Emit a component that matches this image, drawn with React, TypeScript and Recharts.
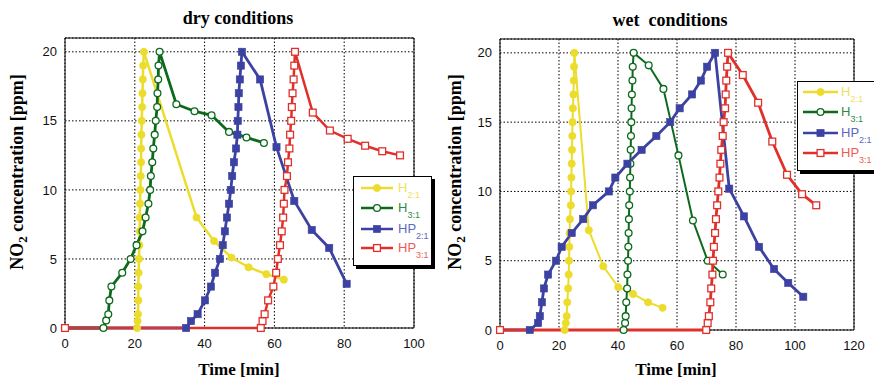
import React from "react";
import {
  LineChart,
  Line,
  XAxis,
  YAxis,
  CartesianGrid,
  ReferenceArea,
} from "recharts";

// [time (min), NO2 (ppm)]
const dryH21: [number, number][] = [
  [0, 0], [20.7, 0], [20.8, 0.5], [20.9, 1], [21.0, 2], [21.0, 3], [21.1, 4], [21.2, 5],
  [21.3, 6], [21.4, 7], [21.4, 8], [21.5, 9], [21.6, 10], [21.7, 11], [21.8, 12], [21.8, 13],
  [21.9, 14], [22.0, 15], [22.1, 16], [22.2, 17], [22.3, 18], [22.4, 19], [22.6, 20],
  [37.7, 8.0], [42.7, 6.3], [47.7, 5.1], [52.6, 4.4], [57.7, 3.9], [62.7, 3.5],
];
const dryH31: [number, number][] = [
  [0, 0], [11.0, 0], [11.8, 0.55], [12.4, 1], [12.7, 2], [13.3, 3], [16.4, 4], [18.8, 5],
  [20.5, 6], [22.2, 7], [23.1, 8], [23.9, 9], [24.4, 10], [24.6, 11], [25.0, 12], [25.3, 13],
  [25.7, 14], [26.0, 15], [26.4, 16], [26.5, 17], [26.7, 18], [26.8, 19], [27.1, 20],
  [31.9, 16.2], [37.1, 15.7], [42.0, 15.4], [47.0, 14.2], [52.0, 13.8], [57.0, 13.4],
];
const dryHP21: [number, number][] = [
  [0, 0], [34.7, 0], [36.1, 0.5], [38.0, 1], [40.1, 2], [41.8, 3], [43.0, 4], [44.4, 5],
  [45.2, 6], [45.8, 7], [46.4, 8], [47.0, 9], [47.5, 10], [47.9, 11], [48.4, 12], [49.0, 13],
  [49.4, 14], [49.5, 15], [49.7, 16], [49.8, 17], [50.1, 18], [50.4, 19], [50.7, 20],
  [55.9, 18], [60.6, 13.1], [65.7, 9.2], [70.7, 7.1], [75.7, 5.8], [80.7, 3.2],
];
const dryHP31: [number, number][] = [
  [0, 0], [56.1, 0], [56.6, 0.5], [57.2, 1], [58.2, 2], [59.7, 3], [60.5, 4], [61.0, 5],
  [61.6, 6], [62.1, 7], [62.5, 8], [62.7, 9], [62.9, 10], [63.6, 11], [63.9, 12], [64.3, 13],
  [64.5, 14], [64.8, 15], [65.0, 16], [65.2, 17], [65.5, 18], [65.7, 19], [65.9, 20],
  [71.0, 15.6], [75.9, 14.3], [81.0, 13.7], [86.0, 13.2], [90.9, 12.8], [96.0, 12.5],
];

const wetH21: [number, number][] = [
  [0, 0], [21.9, 0], [22.3, 0.5], [22.6, 1], [22.8, 2], [23.1, 3], [23.3, 4], [23.4, 5],
  [23.5, 6], [23.6, 7], [23.7, 8], [24.0, 9], [24.1, 10], [24.2, 11], [24.3, 12], [24.4, 13],
  [24.5, 14], [24.6, 15], [24.7, 16], [24.9, 17], [25.0, 18], [25.1, 19], [25.2, 20],
  [30.1, 7.2], [35.0, 4.6], [40.1, 3.1], [45.1, 2.6], [50.2, 2.0], [55.1, 1.6],
];
const wetH31: [number, number][] = [
  [0, 0], [41.9, 0], [42.4, 0.5], [42.6, 1], [42.8, 2], [43.1, 3], [43.2, 4], [43.4, 5],
  [43.5, 6], [43.6, 7], [43.7, 8], [43.8, 9], [44.0, 10], [44.1, 11], [44.2, 12], [44.3, 13],
  [44.4, 14], [44.5, 15], [44.6, 16], [44.7, 17], [44.9, 18], [45.0, 19], [45.3, 20],
  [50.4, 19.1], [55.4, 17.4], [60.5, 12.6], [65.4, 7.9], [70.4, 5.0], [75.5, 4.0],
];
const wetHP21: [number, number][] = [
  [0, 0], [10.1, 0], [12.9, 0.5], [13.5, 1], [14.2, 2], [14.9, 3], [16.3, 4], [19.0, 5],
  [20.9, 6], [24.3, 7], [28.2, 8], [31.5, 9], [36.9, 10], [39.1, 11], [43.2, 12], [48.0, 13],
  [53.0, 14], [57.7, 15], [60.9, 16], [65.1, 17], [68.1, 18], [70.2, 19], [72.9, 20],
  [77.7, 10.2], [82.7, 8.2], [87.8, 6.0], [92.9, 4.4], [97.7, 3.4], [102.8, 2.4],
];
const wetHP31: [number, number][] = [
  [0, 0], [69.9, 0], [70.4, 0.5], [70.8, 1], [71.3, 2], [71.6, 3], [72.0, 4], [72.2, 5],
  [72.5, 6], [72.9, 7], [73.2, 8], [73.6, 9], [74.0, 10], [74.4, 11], [74.7, 12], [75.0, 13],
  [75.5, 14], [75.8, 15], [76.3, 16], [76.5, 17], [76.7, 18], [77.0, 19], [77.3, 20],
  [82.3, 18.4], [87.5, 16.4], [92.3, 13.6], [97.3, 11.2], [102.4, 9.8], [107.2, 9.0],
];

const yTicks = [0, 5, 10, 15, 20];
const dryXTicks = [0, 20, 40, 60, 80, 100];
const wetXTicks = [0, 20, 40, 60, 80, 100, 120];

type Kind = "dot" | "ring" | "square" | "box";

const series = [
  { name: "H", sub: "2:1", kind: "dot" as Kind, color: "#ecdc2c", text: "#eee25a" },
  { name: "H", sub: "3:1", kind: "ring" as Kind, color: "#0b6a1c", text: "#2f8a42" },
  { name: "HP", sub: "2:1", kind: "square" as Kind, color: "#3c42a2", text: "#5c68c4" },
  { name: "HP", sub: "3:1", kind: "box" as Kind, color: "#e0302a", text: "#ee5a55" },
];

const toRows = (pts: [number, number][]) => pts.map(([t, c]) => ({ t, c }));

function marker(kind: Kind, color: string, cx: number, cy: number, key?: string) {
  if (kind === "dot") return <circle key={key} cx={cx} cy={cy} r={3.6} fill={color} stroke={color} strokeWidth={0.8} />;
  if (kind === "ring") return <circle key={key} cx={cx} cy={cy} r={3.4} fill="#fff" stroke={color} strokeWidth={1.3} />;
  if (kind === "square") return <rect key={key} x={cx - 3.6} y={cy - 3.6} width={7.2} height={7.2} fill={color} stroke={color} strokeWidth={0.6} />;
  return <rect key={key} x={cx - 3.4} y={cy - 3.4} width={6.8} height={6.8} fill="#fff" stroke={color} strokeWidth={1.3} />;
}

const dotFor = (kind: Kind, color: string) => (p: any) => {
  const { cx, cy, index } = p;
  if (cx == null || cy == null) return <g key={`e${index}`} />;
  return marker(kind, color, cx, cy, `m${index}`);
};

const serif = "'Liberation Serif', 'DejaVu Serif', serif";
const sans = "'Liberation Sans', Arial, sans-serif";

function Panel({
  left, width, plotLeft, plotRight, plotTop, plotBottom, xMax, xTicks, data, widths,
}: {
  left: number; width: number; plotLeft: number; plotRight: number; plotTop: number; plotBottom: number;
  xMax: number; xTicks: number[]; data: [number, number][][]; widths: number[];
}) {
  const xAxisH = 30;
  return (
    <div style={{ position: "absolute", left, top: 0 }}>
      <LineChart
        width={width}
        height={379}
        margin={{ top: plotTop, right: width - plotRight, left: 0, bottom: 379 - plotBottom - xAxisH }}
      >
        <CartesianGrid stroke="#000" strokeDasharray="1.5 2" strokeWidth={1} />
        <XAxis
          type="number"
          dataKey="t"
          domain={[0, xMax]}
          ticks={xTicks}
          height={xAxisH}
          tickLine={false}
          axisLine={false}
          tickSize={0}
          tickMargin={11}
          tick={{ fill: "#111", fontSize: 13, fontFamily: sans }}
        />
        <YAxis
          type="number"
          dataKey="c"
          domain={[0, 21]}
          ticks={yTicks}
          width={plotLeft}
          tickLine={false}
          axisLine={false}
          tickSize={0}
          tickMargin={8}
          tick={{ fill: "#111", fontSize: 13, fontFamily: sans }}
        />
        <ReferenceArea x1={0} x2={xMax} y1={0} y2={21} fill="none" stroke="#000" strokeWidth={1} />
        {series.map((s, i) => (
          <Line
            key={i}
            data={toRows(data[i])}
            dataKey="c"
            type="linear"
            stroke={s.color}
            strokeWidth={widths[i]}
            dot={dotFor(s.kind, s.color)}
            activeDot={false}
            isAnimationActive={false}
          />
        ))}
      </LineChart>
    </div>
  );
}

function LegendBox({ left, top, rowY, lineX, textX }: { left: number; top: number; rowY: number[]; lineX: [number, number]; textX: number }) {
  const w = 79;
  const h = 90;
  return (
    <div
      style={{
        position: "absolute", left, top, width: w, height: h, background: "#fff",
        border: "1.5px solid #000", boxShadow: "3px 3px 0 #000", boxSizing: "border-box",
      }}
    >
      <svg width={w} height={h} style={{ position: "absolute", left: -1.5, top: -1.5 }}>
        {series.map((s, i) => (
          <g key={i}>
            <line x1={lineX[0]} x2={lineX[1]} y1={rowY[i]} y2={rowY[i]} stroke={s.color} strokeWidth={2.5} />
            {marker(s.kind, s.color, (lineX[0] + lineX[1]) / 2, rowY[i])}
            <text x={textX} y={rowY[i] + 4} fill={s.text} fontFamily={sans} fontSize={13}>
              {s.name}
              <tspan dy={6} fontSize={9}>{s.sub}</tspan>
            </text>
          </g>
        ))}
      </svg>
    </div>
  );
}

const centerText = (x: number, y: number, text: React.ReactNode, extra: React.CSSProperties = {}) => (
  <div
    style={{
      position: "absolute", left: x, top: y, transform: "translate(-50%, -50%)", whiteSpace: "nowrap",
      fontFamily: serif, fontWeight: "bold", fontSize: 17, color: "#000", ...extra,
    }}
  >
    {text}
  </div>
);

const yLabel = (
  <span>
    NO<sub style={{ fontSize: 13 }}>2</sub> concentration [ppm]
  </span>
);

export default function App() {
  return (
    <div style={{ position: "absolute", left: 0, top: 0, width: 874, height: 379, background: "#fff", overflow: "hidden" }}>
      <Panel
        left={0} width={440} plotLeft={65} plotRight={414} plotTop={38} plotBottom={328}
        xMax={100} xTicks={dryXTicks} data={[dryH21, dryH31, dryHP21, dryHP31]} widths={[2.5, 2.8, 2.8, 2.5]}
      />
      <Panel
        left={440} width={434} plotLeft={60} plotRight={414} plotTop={39} plotBottom={330}
        xMax={120} xTicks={wetXTicks} data={[wetH21, wetH31, wetHP21, wetHP31]} widths={[2, 2, 2.8, 2.8]}
      />
      {centerText(238, 18, "dry conditions", { fontSize: 18 })}
      {centerText(670, 20, "wet\u00a0 conditions", { fontSize: 18 })}
      {centerText(239, 370, "Time [min]")}
      {centerText(676, 370, "Time [min]")}
      {centerText(19, 172, yLabel, { fontSize: 18, transform: "translate(-50%, -50%) rotate(-90deg)" })}
      {centerText(457, 172, yLabel, { fontSize: 18, transform: "translate(-50%, -50%) rotate(-90deg)" })}
      <LegendBox left={353} top={176} rowY={[12, 32, 53, 72]} lineX={[8, 40]} textX={45} />
      <LegendBox left={797} top={81} rowY={[11, 31, 52, 72]} lineX={[6, 41]} textX={44} />
    </div>
  );
}
